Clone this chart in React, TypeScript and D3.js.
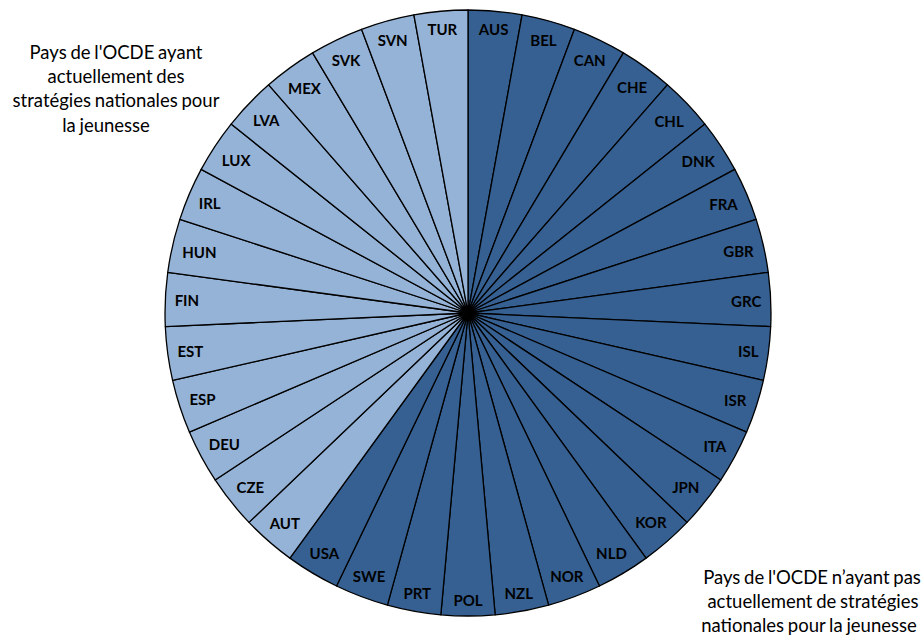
import React, { useMemo } from "react";
import * as d3 from "d3";

// OECD members without a current national youth strategy (dark), clockwise from 12 o'clock
const withoutStrategy = [
  "AUS", "BEL", "CAN", "CHE", "CHL", "DNK", "FRA", "GBR", "GRC", "ISL", "ISR",
  "ITA", "JPN", "KOR", "NLD", "NOR", "NZL", "POL", "PRT", "SWE", "USA",
];
// OECD members with a current national youth strategy (light)
const withStrategy = [
  "AUT", "CZE", "DEU", "ESP", "EST", "FIN", "HUN", "IRL", "LUX", "LVA", "MEX",
  "SVK", "SVN", "TUR",
];
// every country counts as one equal share
const shareWithout = withoutStrategy.map(() => 1);
const shareWith = withStrategy.map(() => 1);

const noteWith = ["Pays de l'OCDE ayant", "actuellement des", "stratégies nationales pour", "la jeunesse"];
const noteWithout = ["Pays de l'OCDE n\u2019ayant pas", "actuellement de stratégies", "nationales pour la jeunesse"];

const W = 924;
const H = 636;
const CX = 468;
const CY = 313;
const R = 303;
const DARK = "#366092";
const LIGHT = "#95B3D7";
const LABEL_FONT = "bold 15px Lato";
const NOTE_FONT = "Lato";

type Row = { code: string; share: number; group: "without" | "with" };

const rows: Row[] = [
  ...withoutStrategy.map((code, i) => ({ code, share: shareWithout[i], group: "without" as const })),
  ...withStrategy.map((code, i) => ({ code, share: shareWith[i], group: "with" as const })),
];

function textWidth(text: string, font: string): number {
  const ctx = document.createElement("canvas").getContext("2d");
  if (!ctx) return text.length * 10;
  ctx.font = font;
  return ctx.measureText(text).width;
}

export default function App() {
  const arcs = useMemo(
    () =>
      d3
        .pie<Row>()
        .value((d) => d.share)
        .sort(null)
        .startAngle(0)
        .endAngle(2 * Math.PI)(rows),
    []
  );
  const arcGen = d3.arc<d3.PieArcDatum<Row>>().innerRadius(0).outerRadius(R);

  // labels sit just inside the rim: the box is pushed inwards by its extent along the radius
  const labels = arcs.map((a) => {
    const mid = (a.startAngle + a.endAngle) / 2;
    const sx = Math.sin(mid);
    const sy = -Math.cos(mid);
    const w = textWidth(a.data.code, LABEL_FONT) + 2;
    const h = 16;
    const proj = Math.abs(sx) * (w / 2) + Math.abs(sy) * (h / 2);
    const rr = R - 8 - proj;
    return { code: a.data.code, x: CX + sx * rr, y: CY + sy * rr };
  });

  return (
    <svg
      width={W}
      height={H}
      viewBox={`0 0 ${W} ${H}`}
      style={{ position: "absolute", left: 0, top: 0, background: "#fff" }}
    >
      <g transform={`translate(${CX},${CY})`}>
        {arcs.map((a) => (
          <path
            key={a.data.code}
            d={arcGen(a) || ""}
            fill={a.data.group === "without" ? DARK : LIGHT}
            stroke="#000"
            strokeWidth={1.3}
            strokeLinejoin="round"
          />
        ))}
      </g>
      {labels.map((l) => (
        <text
          key={l.code}
          x={l.x}
          y={l.y}
          textAnchor="middle"
          dominantBaseline="central"
          fontFamily="Lato"
          fontWeight="bold"
          fontSize={15}
          fill="#000"
        >
          {l.code}
        </text>
      ))}
      <g
        fontFamily={NOTE_FONT}
        fontSize={18.5}
        fill="#000"
        textAnchor="middle"
        style={{ wordSpacing: "-1px" }}
      >
        {noteWith.map((t, i) => (
          <text key={t} x={i === 3 ? 106 : 116} y={59 + i * 24.2}>
            {t}
          </text>
        ))}
        {noteWithout.map((t, i) => (
          <text key={t} x={[812, 813, 809][i]} y={584 + i * 24.2}>
            {t}
          </text>
        ))}
      </g>
    </svg>
  );
}
